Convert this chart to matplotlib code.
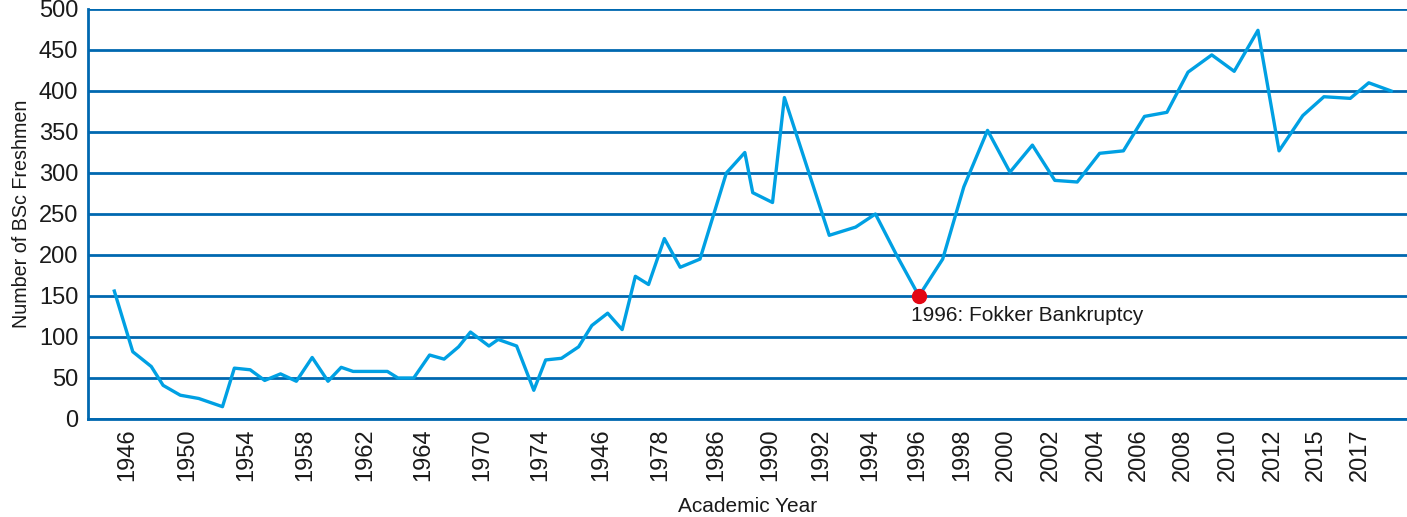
import matplotlib.pyplot as plt

# position along the time axis (0-100 scale) and freshmen counts
x_pos = [2.0, 3.4, 4.8, 5.7, 7.0, 8.4, 10.2, 11.1, 12.3, 13.4, 14.6, 15.8, 17.0,
         18.2, 19.2, 20.1, 21.4, 22.7, 23.5, 24.7, 25.9, 27.0, 28.1, 29.0, 30.4,
         31.1, 32.5, 33.8, 34.7, 35.9, 37.2, 38.2, 39.4, 40.5, 41.5, 42.5, 43.7,
         44.9, 46.4, 48.4, 49.8, 50.4, 51.9, 52.8, 54.5, 56.2, 58.2, 59.7, 61.3,
         63.0, 64.8, 66.4, 68.2, 69.9, 71.6, 73.3, 75.0, 76.7, 78.5, 80.1, 81.8,
         83.4, 85.2, 86.9, 88.7, 90.3, 92.1, 93.7, 95.7, 97.1, 98.8]
freshmen = [156, 82, 64, 41, 29, 25, 15, 62, 60, 47, 55, 46, 75,
            46, 63, 58, 58, 58, 50, 50, 78, 73, 88, 106, 89,
            97, 89, 35, 72, 74, 88, 114, 129, 109, 174, 164, 220,
            185, 195, 300, 325, 276, 264, 392, 308, 224, 234, 250, 200,
            150, 195, 283, 352, 301, 334, 291, 289, 324, 327, 369, 374,
            423, 444, 424, 474, 327, 370, 393, 391, 410, 400]

tick_pos = [3.0, 7.5, 12.0, 16.5, 21.0, 25.4, 29.9, 34.3, 38.9, 43.4, 47.6, 51.7,
            55.6, 59.3, 62.9, 66.3, 69.6, 73.0, 76.4, 79.7, 83.0, 86.4, 89.8,
            93.1, 96.4]
tick_labels = ['1946', '1950', '1954', '1958', '1962', '1964', '1970', '1974',
               '1946', '1978', '1986', '1990', '1992', '1994', '1996', '1998',
               '2000', '2002', '2004', '2006', '2008', '2010', '2012', '2015',
               '2017']

event_idx = 49
event_text = '1996: Fokker Bankruptcy'

plt.rcParams['font.family'] = ['Liberation Sans', 'DejaVu Sans']
grid_blue = '#0068b0'
line_blue = '#00a0e3'
text_col = '#1a1a1a'

fig = plt.figure(figsize=(14.07, 5.17), dpi=100)
ax = fig.add_axes([0.0625, 0.1896, 0.9375, 0.793])

ax.plot(x_pos, freshmen, color=line_blue, linewidth=2.4, zorder=3)
ax.plot(x_pos[event_idx], freshmen[event_idx], 'o', color='#e30613',
        markersize=10, zorder=4)
ax.annotate(event_text, (x_pos[event_idx], freshmen[event_idx]),
            xytext=(-6, -7), textcoords='offset points', ha='left', va='top',
            fontsize=15, color=text_col)

ax.set_xlim(0, 100)
ax.set_ylim(0, 500)
ax.set_yticks(range(0, 501, 50))
ax.set_xticks(tick_pos)
ax.set_xticklabels(tick_labels, rotation=90)
ax.tick_params(axis='y', length=0, pad=7, labelsize=17, labelcolor=text_col)
ax.tick_params(axis='x', length=0, pad=7, labelsize=17, labelcolor=text_col)
ax.grid(axis='y', color=grid_blue, linewidth=2)
ax.set_axisbelow(True)
for s in ['top', 'right']:
    ax.spines[s].set_visible(False)
ax.spines['left'].set_color(grid_blue)
ax.spines['left'].set_linewidth(2)
ax.spines['bottom'].set_color(grid_blue)
ax.spines['bottom'].set_linewidth(2)

ax.set_xlabel('Academic Year', fontsize=15, labelpad=11, color=text_col)
ax.set_ylabel('Number of BSc Freshmen', fontsize=14.2, labelpad=6, color=text_col)

fig.savefig('out.png', dpi=100)
